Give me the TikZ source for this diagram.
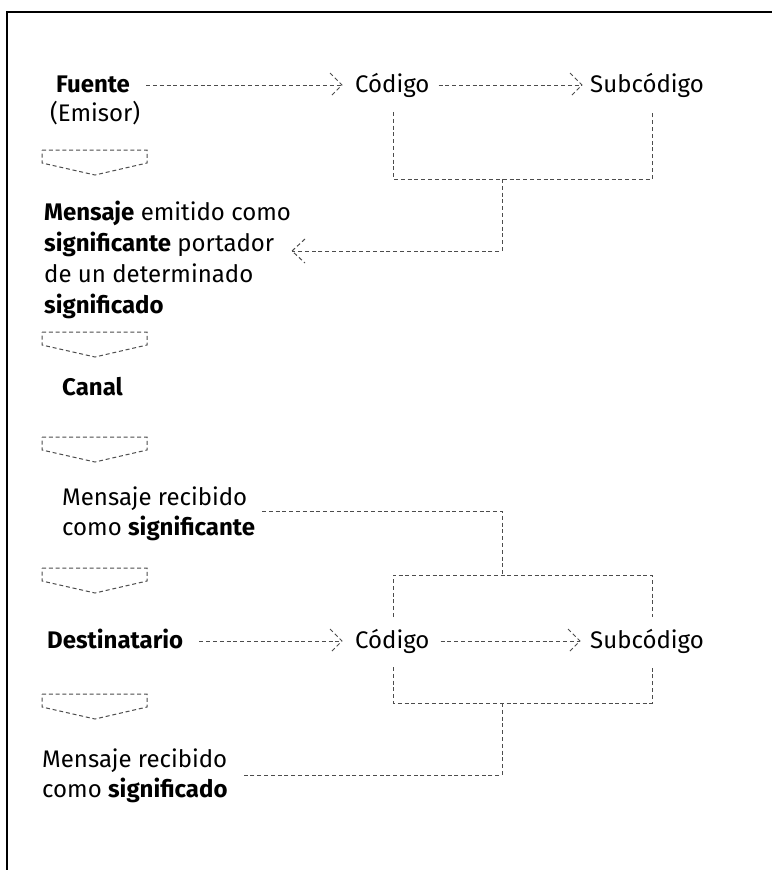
\documentclass[tikz,border=0pt]{standalone}
\usepackage{fontspec}
\setmainfont{Fira Sans}
\usetikzlibrary{calc}
\begin{document}
\begin{tikzpicture}[x=1pt,y=-1pt,
  dl/.style={draw=black!70, line width=1pt, dash pattern=on 4pt off 2.8pt},
  txt/.style={anchor=base west, inner sep=0pt, font=\fontsize{24}{30}\selectfont},
  frame/.style={line width=1.3pt}]
\useasboundingbox (0,0) rectangle (772,870);
\draw[frame] (7,870) -- (7,12) -- (772,12);
% texts
\node[txt] (fuente) at (56,92) {\textbf{Fuente}};
\node[txt] (emisor) at (50,121) {(Emisor)};
\node[txt] (cod1) at (355,92) {Código};
\node[txt] (sub1) at (590,92) {Subcódigo};
\node[txt] (m1) at (44,220) {\textbf{Mensaje} emitido como};
\node[txt] (m2) at (44,251) {\textbf{significante} portador};
\node[txt] (m3) at (44,282) {de un determinado};
\node[txt] (m4) at (44,313) {\textbf{significado}};
\node[txt] (canal) at (62,395) {\textbf{Canal}};
\node[txt] (r1) at (62,505) {Mensaje recibido};
\node[txt] (r2) at (62,535) {como \textbf{significante}};
\node[txt] (dest) at (47,648) {\textbf{Destinatario}};
\node[txt] (cod2) at (355,648) {Código};
\node[txt] (sub2) at (590,648) {Subcódigo};
\node[txt] (s1) at (42,767) {Mensaje recibido};
\node[txt] (s2) at (42,797) {como \textbf{significado}};
% chevrons
\foreach \t/\n in {150/ch1,332/ch2,437/ch3,568/ch4,694/ch5}{
  \draw[dl] (42,\t) coordinate (\n) -- (147,\t) -- (147,\t+13) -- (95,\t+25) -- (42,\t+13) -- cycle;
}
% horizontal arrows
\draw[dl] ($(fuente.base east)+(16,-7)$) coordinate (a1s) -- ($(cod1.base west)+(-13,-7)$) coordinate (a1e);
\draw[dl] ($(a1e)+(-12,-12)$) -- (a1e) -- ($(a1e)+(-12,12)$);
\draw[dl] ($(cod1.base east)+(9,-7)$) coordinate (a2s) -- ($(sub1.base west)+(-8,-7)$) coordinate (a2e);
\draw[dl] ($(a2e)+(-12,-12)$) -- (a2e) -- ($(a2e)+(-12,12)$);
\draw[dl] ($(dest.base east)+(16,-7)$) coordinate (a3s) -- ($(cod2.base west)+(-13,-7)$) coordinate (a3e);
\draw[dl] ($(a3e)+(-12,-12)$) -- (a3e) -- ($(a3e)+(-12,12)$);
\draw[dl] ($(cod2.base east)+(11,-7)$) coordinate (a4s) -- ($(sub2.base west)+(-10,-7)$) coordinate (a4e);
\draw[dl] ($(a4e)+(-12,-12)$) -- (a4e) -- ($(a4e)+(-12,12)$);
% top bracket
\coordinate (t1) at (393,112);
\coordinate (t2) at (652,112);
\coordinate (tm) at (502,179);
\coordinate (tt) at (292,251);
\draw[dl] (t1) -- (t1 |- tm) -- (t2 |- tm) -- (t2);
\draw[dl] (tm) -- (tm |- tt) -- (tt);
\draw[dl] ($(tt)+(13,-12)$) -- (tt) -- ($(tt)+(13,12)$);
% middle bracket
\coordinate (u0) at (262,511);
\coordinate (um) at (502,575);
\coordinate (u1) at (393,617);
\coordinate (u2) at (652,617);
\draw[dl] (u0) -- (u0 -| um) -- (um);
\draw[dl] (u1) -- (u1 |- um) -- (u2 |- um) -- (u2);
% bottom bracket
\coordinate (v1) at (393,667);
\coordinate (v2) at (652,667);
\coordinate (vm) at (502,703);
\coordinate (v0) at (243,775);
\draw[dl] (v1) -- (v1 |- vm) -- (v2 |- vm) -- (v2);
\draw[dl] (vm) -- (vm |- v0) -- (v0);
\end{tikzpicture}
\end{document}
